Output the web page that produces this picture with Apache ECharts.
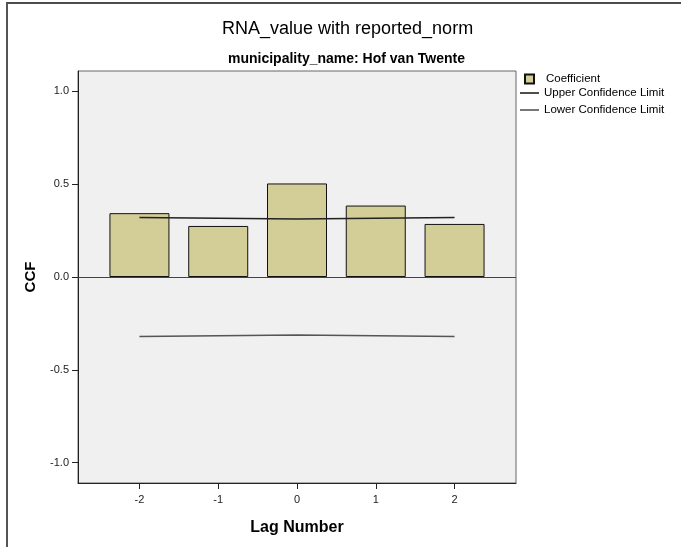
<!DOCTYPE html>
<html>
<head>
<meta charset="utf-8">
<script src="https://cdn.jsdelivr.net/npm/echarts@6/dist/echarts.min.js"></script>
<style>
  html, body { margin: 0; padding: 0; background: #fff; }
  #main { width: 681px; height: 547px; }
</style>
</head>
<body>
<div id="main"></div>
<script>
var lags = [-2, -1, 0, 1, 2];
var coefficient = [0.344, 0.275, 0.504, 0.385, 0.286];
var upperLimit = [0.320, 0.316, 0.312, 0.316, 0.320];
var lowerLimit = [-0.320, -0.316, -0.312, -0.316, -0.320];
var yTicks = [-1, -0.5, 0, 0.5, 1];

var font = "'Liberation Sans', Arial, sans-serif";

function pairs(vals) {
  return lags.map(function (l, i) { return [l, vals[i]]; });
}

var chart = echarts.init(document.getElementById('main'));
var option = {
  backgroundColor: '#fff',
  animation: false,
  title: [
    { text: 'RNA_value with reported_norm', left: 222, top: 20, padding: 0,
      textStyle: { fontFamily: font, fontSize: 18, fontWeight: 'normal', color: '#000' } },
    { text: 'municipality_name: Hof van Twente', left: 228, top: 52, padding: 0,
      textStyle: { fontFamily: font, fontSize: 14, fontWeight: 'bold', color: '#000' } }
  ],
  legend: [
    { data: ['Coefficient'], orient: 'vertical', left: 524, top: 73, padding: 0,
      itemWidth: 9, itemHeight: 9, icon: 'rect',
      textStyle: { fontFamily: font, fontSize: 11.5, color: '#000', padding: [0, 0, 0, 7] } },
    { data: ['Upper Confidence Limit', 'Lower Confidence Limit'], orient: 'vertical', left: 520, top: 87,
      padding: 0, itemWidth: 19, itemHeight: 10, itemGap: 5, icon: 'path://M0,4.2H19V5.8H0Z',
      textStyle: { fontFamily: font, fontSize: 11.5, color: '#000' } }
  ],
  grid: {
    left: 78, right: 165, top: 71, bottom: 64,
    show: true, backgroundColor: '#f0f0f0', borderColor: '#666', borderWidth: 1
  },
  xAxis: {
    type: 'value', min: -2.78, max: 2.78,
    name: 'Lag Number', nameLocation: 'middle', nameGap: 37,
    nameTextStyle: { fontFamily: font, fontSize: 16, fontWeight: 'bold', color: '#000' },
    axisLine: { show: true, onZero: false, lineStyle: { color: '#222', width: 1 } },
    axisTick: { show: true, length: 6, customValues: lags, lineStyle: { color: '#222' } },
    axisLabel: { customValues: lags, fontFamily: font, fontSize: 11, color: '#222', margin: 11 },
    splitLine: { show: false }
  },
  yAxis: {
    type: 'value', min: -1.11, max: 1.11,
    name: 'CCF', nameLocation: 'middle', nameGap: 40,
    nameTextStyle: { fontFamily: font, fontSize: 15, fontWeight: 'bold', color: '#000' },
    axisLine: { show: true, onZero: false, lineStyle: { color: '#222', width: 1 } },
    axisTick: { show: true, length: 6, customValues: yTicks, lineStyle: { color: '#222' } },
    axisLabel: { customValues: yTicks, fontFamily: font, fontSize: 11, color: '#222', margin: 9,
      formatter: function (v) { return v.toFixed(1); } },
    splitLine: { show: false }
  },
  series: [
    {
      name: 'Coefficient', type: 'bar', barWidth: 60,
      data: pairs(coefficient),
      itemStyle: { color: '#d3ce98', borderColor: '#111', borderWidth: 1 },
      markLine: {
        silent: true, symbol: 'none', label: { show: false },
        lineStyle: { color: '#444', width: 1, type: 'solid' },
        data: [{ yAxis: 0 }]
      }
    },
    {
      name: 'Upper Confidence Limit', type: 'line', symbol: 'none', z: 5,
      data: pairs(upperLimit),
      itemStyle: { color: '#222' },
      lineStyle: { color: '#222', width: 1.5 }
    },
    {
      name: 'Lower Confidence Limit', type: 'line', symbol: 'none', z: 5,
      data: pairs(lowerLimit),
      itemStyle: { color: '#555' },
      lineStyle: { color: '#555', width: 1.5 }
    }
  ],
  graphic: [
    { type: 'line', shape: { x1: 6, y1: 3, x2: 681, y2: 3 }, style: { stroke: '#111', lineWidth: 1.5 } },
    { type: 'line', shape: { x1: 7, y1: 3, x2: 7, y2: 547 }, style: { stroke: '#555', lineWidth: 2 } }
  ]
};
chart.setOption(option);
</script>
</body>
</html>
